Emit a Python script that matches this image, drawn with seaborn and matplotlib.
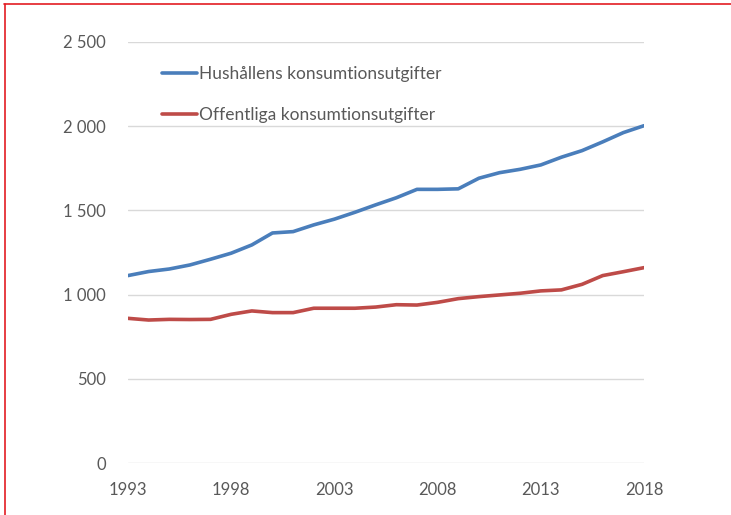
import pandas as pd
import numpy as np
import matplotlib.pyplot as plt
import seaborn as sns
from matplotlib.lines import Line2D
from matplotlib.ticker import FuncFormatter

sns.set_theme(style="white")
plt.rcParams['font.family'] = ['Lato', 'DejaVu Sans']

# Data
years = list(range(1993, 2019))
hushall = [1113, 1137, 1152, 1176, 1210, 1246, 1295, 1366, 1374, 1414, 1448, 1489,
           1533, 1575, 1625, 1625, 1628, 1691, 1724, 1744, 1770, 1816, 1855, 1907,
           1962, 2003]
offentlig = [859, 849, 853, 852, 853, 883, 903, 893, 893, 919, 919, 919,
             926, 940, 938, 954, 976, 988, 998, 1008, 1022, 1028, 1061, 1113,
             1136, 1160]
series_names = ['Hushållens konsumtionsutgifter', 'Offentliga konsumtionsutgifter']
colors = ['#4A7EBB', '#BE4B48']
xticks = [1993, 1998, 2003, 2008, 2013, 2018]
yticks = [0, 500, 1000, 1500, 2000, 2500]

df = pd.DataFrame({
    'År': years * 2,
    'Värde': hushall + offentlig,
    'Serie': [series_names[0]] * len(years) + [series_names[1]] * len(years),
})

fig = plt.figure(figsize=(7.31, 5.15), dpi=100)
ax = fig.add_axes([128 / 731, 1 - 463 / 515, (644 - 128) / 731, (463 - 42) / 515])

sns.lineplot(data=df, x='År', y='Värde', hue='Serie', palette=colors,
             linewidth=2.6, ax=ax, legend=False)

ax.set_xlim(1993, 2018)
ax.set_ylim(0, 2500)
ax.set_xticks(xticks)
ax.set_yticks(yticks)
ax.yaxis.set_major_formatter(FuncFormatter(lambda v, p: f"{int(v):,}".replace(',', ' ')))
ax.grid(axis='y', color='#D9D9D9', linewidth=1)
ax.set_axisbelow(True)
for s in ax.spines.values():
    s.set_visible(False)
ax.tick_params(axis='both', length=0, labelsize=12, colors='#595959')
ax.tick_params(axis='y', pad=16)
ax.tick_params(axis='x', pad=14)
ax.set_xlabel('')
ax.set_ylabel('')

handles = [Line2D([], [], color=c, linewidth=2.6) for c in colors]
ax.legend(handles, series_names, loc='upper left', bbox_to_anchor=(0.066, 0.942),
          frameon=False, borderpad=0, borderaxespad=0, handlelength=2.0,
          handletextpad=0.15, labelspacing=1.4, fontsize=12.5, labelcolor='#595959')

# red frame lines at top and left edge
fig.add_artist(Line2D([4 / 731, 1], [1 - 4 / 515, 1 - 4 / 515], color='#E31C23',
                      linewidth=1.2, transform=fig.transFigure))
fig.add_artist(Line2D([5 / 731, 5 / 731], [0, 1 - 4 / 515], color='#E31C23',
                      linewidth=1.2, transform=fig.transFigure))

plt.savefig('out.png', dpi=100)
plt.close()
